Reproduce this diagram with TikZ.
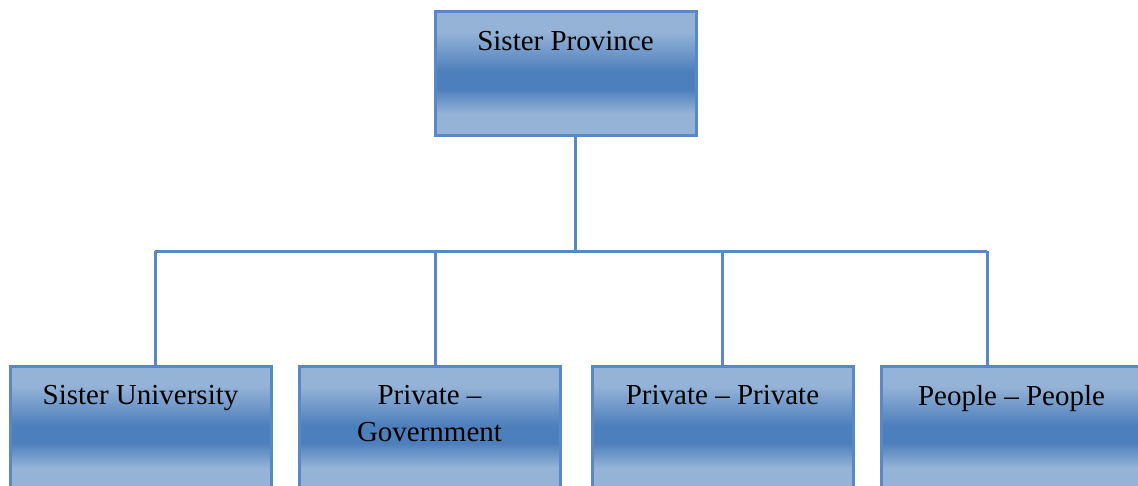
\documentclass[tikz,border=0pt]{standalone}
\usepackage{fontspec}
\setmainfont{Liberation Serif}
\usepackage{xcolor}
\usepackage{tikz}
\usetikzlibrary{positioning}

\definecolor{boxlight}{HTML}{95B3D7}
\definecolor{boxdark}{HTML}{4D7FBC}
\definecolor{boxline}{HTML}{5A88C4}
\pgfdeclareverticalshading{boxfill}{100bp}{color(0bp)=(boxlight); color(34bp)=(boxlight); color(44bp)=(boxdark); color(51bp)=(boxdark); color(67bp)=(boxlight); color(100bp)=(boxlight)}

\tikzset{
  unit/.style={rectangle, draw=boxline, line width=1.5pt, shading=boxfill,
    minimum width=130.5pt, minimum height=62pt, inner sep=0pt},
  caption/.style={anchor=north, inner sep=0pt, align=center,
    font=\fontsize{14.5pt}{18.5pt}\selectfont},
  link/.style={draw=boxline, line width=1.5pt}
}

\begin{document}
\begin{tikzpicture}[x=0.5pt, y=-0.5pt]
      \useasboundingbox (0,0) rectangle (1138,486);
      \clip (0,0) rectangle (1138,486);
      % boxes
      \node[unit] (province) at (565.5,74) {};
      \node[unit] (univ) at (140.5,428) {};
      \node[unit] (privgov) at (429.5,428) {};
      \node[unit] (privpriv) at (722.5,428) {};
      \node[unit] (people) at (1011.5,428) {};
      % texts
      \node[caption, below=10pt of province.north] (provinceText) {Sister Province};
      \node[caption, below=10pt of univ.north] (univText) {Sister University};
      \node[caption, below=10pt of privgov.north] (privgovText) {Private --\\Government};
      \node[caption, below=10pt of privpriv.north] (privprivText) {Private -- Private};
      \node[caption, below=10pt of people.north] (peopleText) {People -- People};
      % connectors
      \coordinate (hub) at (575,251);
      \coordinate (tapA) at (155,251);
      \coordinate (tapB) at (435,251);
      \coordinate (tapC) at (722,251);
      \coordinate (tapD) at (987,251);
      \draw[link] (province.south -| hub) -- (hub);
      \draw[link] (tapA) -- (tapD);
      \draw[link] (tapA) -- (tapA |- univ.north);
      \draw[link] (tapB) -- (tapB |- privgov.north);
      \draw[link] (tapC) -- (tapC |- privpriv.north);
      \draw[link] (tapD) -- (tapD |- people.north);
    \end{tikzpicture}
\end{document}
